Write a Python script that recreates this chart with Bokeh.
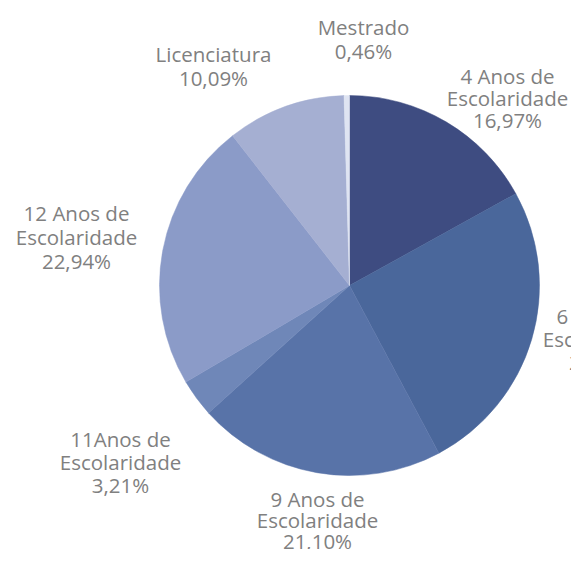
import math
from bokeh.plotting import figure
from bokeh.models import Range1d, ColumnDataSource
from bokeh.core.properties import value
from bokeh.embed import file_html
from bokeh.resources import INLINE

# ---- data ----
categories = ["4 Anos de\nEscolaridade", "6 Anos de\nEscolaridade", "9 Anos de\nEscolaridade",
              "11Anos de\nEscolaridade", "12 Anos de\nEscolaridade", "Licenciatura", "Mestrado"]
percentages = [16.97, 25.23, 21.10, 3.21, 22.94, 10.09, 0.46]
colors = ["#3e4c81", "#4a679b", "#5873a8", "#6f87b8", "#8b9bc8", "#a5afd2", "#dfe4f2"]

# ---- layout (pixel coordinates of the canvas, y measured from top) ----
W, H = 571, 549
cx, cy, R = 349, 285, 190
label_x = [507, 603, 317, 120, 76, 213, 363]
label_y = [75, 315, 498, 438, 212, 53, 26]
line_gap = [22, 23, 21, 23, 24, 24, 24]

def Y(y):
    return H - y

p = figure(width=W, height=H, output_backend="svg", toolbar_location=None,
           x_range=Range1d(0, W), y_range=Range1d(0, H),
           min_border=0, outline_line_color=None)
p.axis.visible = False
p.grid.visible = False
p.background_fill_color = "white"
p.border_fill_color = "white"

total = sum(percentages)
starts, ends = [], []
acc = 0.0
for v in percentages:
    a0 = math.pi / 2 - 2 * math.pi * acc / total
    acc += v
    a1 = math.pi / 2 - 2 * math.pi * acc / total
    starts.append(a1)
    ends.append(a0)

src = ColumnDataSource(dict(x=[cx] * len(percentages), y=[Y(cy)] * len(percentages),
                            start=starts, end=ends, color=colors))
p.wedge(x="x", y="y", radius=R, start_angle="start", end_angle="end",
        fill_color="color", line_color="color", line_width=0.5, source=src)

tx, ty, tt = [], [], []
for name, v, lx, ly, g in zip(categories, percentages, label_x, label_y, line_gap):
    lines = name.split("\n") + [f"{v:.2f}".replace(".", ",") + "%"]
    for i, ln in enumerate(lines):
        tx.append(lx)
        ty.append(Y(ly + i * g))
        tt.append(ln)

p.text(x=tx, y=ty, text=tt, text_align="center", text_baseline="middle",
       text_font=value("Open Sans"), text_font_size="20.5px", text_color="#808080")

open("out.html", "w").write(file_html(p, INLINE))
